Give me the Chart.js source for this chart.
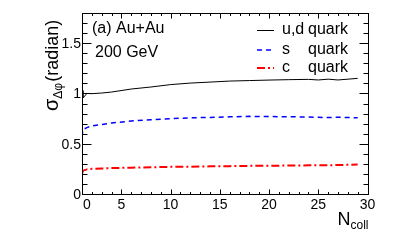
<!DOCTYPE html>
<html>
<head>
<meta charset="utf-8">
<script src="https://cdn.jsdelivr.net/npm/chart.js@4"></script>
<style>
  html, body { margin: 0; padding: 0; background: #fff; }
  #wrap { width: 409px; height: 245px; }
</style>
</head>
<body>
<div id="wrap"><canvas id="sigmaChart" width="409" height="245"></canvas></div>
<script>
// N_coll sampling points and sigma_dphi values
const nColl = [1, 1.1, 1.5, 2, 3, 4, 6, 8, 10, 12, 14, 16, 18, 20, 22, 24, 25, 26, 27, 29];
const udQuark = [1.03, 0.955, 1.0, 0.998, 1.004, 1.014, 1.044, 1.064, 1.088, 1.103, 1.113, 1.123, 1.128, 1.133, 1.137, 1.14, 1.134, 1.142, 1.134, 1.15];
const sQuark = [0.57, 0.64, 0.66, 0.677, 0.691, 0.706, 0.726, 0.739, 0.75, 0.757, 0.762, 0.767, 0.772, 0.77, 0.768, 0.766, 0.763, 0.76, 0.764, 0.758];
const cQuark = [0.2, 0.232, 0.245, 0.25, 0.254, 0.258, 0.262, 0.266, 0.27, 0.272, 0.275, 0.277, 0.28, 0.281, 0.283, 0.285, 0.285, 0.286, 0.288, 0.293];

const seriesNames = ['u,d', 's', 'c'];
const xTicks = [0, 5, 10, 15, 20, 25, 30];
const yTicks = [0, 0.5, 1, 1.5];

const FONT = '"Liberation Sans", Arial, Helvetica, sans-serif';
const toPts = vals => nColl.map((x, i) => ({ x: x, y: vals[i] }));

// ROOT-like frame, inward ticks, labels, titles and legend
const rootFrame = {
    id: 'rootFrame',
    afterDraw(chart) {
        const { ctx, chartArea: a, scales: { x, y } } = chart;
        const L = Math.round(a.left) + 0.5, R = Math.round(a.right) + 0.5;
        const T = Math.round(a.top) + 0.5, B = Math.round(a.bottom) + 0.5;
        ctx.save();
        ctx.strokeStyle = '#000';
        ctx.lineWidth = 1;
        ctx.strokeRect(L, T, R - L, B - T);

        ctx.beginPath();
        // x ticks (bottom + top)
        for (let v = Math.ceil(x.min); v <= x.max; v++) {
            const px = Math.round(x.getPixelForValue(v)) + 0.5;
            const len = v % 5 === 0 ? 5 : 2.5;
            ctx.moveTo(px, B); ctx.lineTo(px, B - len);
            ctx.moveTo(px, T); ctx.lineTo(px, T + len);
        }
        // y ticks (left + right)
        for (let k = 0; k <= 18; k++) {
            const v = k / 10;
            const py = Math.round(y.getPixelForValue(v)) + 0.5;
            const len = k % 5 === 0 ? 9 : 5;
            ctx.moveTo(L, py); ctx.lineTo(L + len, py);
            ctx.moveTo(R, py); ctx.lineTo(R - len, py);
        }
        ctx.stroke();

        ctx.fillStyle = '#000';
        ctx.font = '14px ' + FONT;
        ctx.textBaseline = 'top';
        ctx.textAlign = 'center';
        xTicks.forEach(v => {
            let px = x.getPixelForValue(v);
            if (px < a.left + 5) px = a.left + 5;
            ctx.fillText(String(v), px, a.bottom + 4);
        });
        ctx.textAlign = 'right';
        ctx.textBaseline = 'middle';
        yTicks.forEach(v => {
            ctx.fillText(String(v), a.left - 1, y.getPixelForValue(v) + 1);
        });

        // x title N_coll
        ctx.textAlign = 'left';
        ctx.textBaseline = 'alphabetic';
        ctx.font = '12px ' + FONT;
        const wSub = ctx.measureText('coll').width;
        ctx.font = '18px ' + FONT;
        const wN = ctx.measureText('N').width;
        const xEnd = a.right + 1;
        ctx.fillText('N', xEnd - wSub - wN, 225);
        ctx.font = '12px ' + FONT;
        ctx.fillText('coll', xEnd - wSub, 229);

        // y title sigma_dphi (radian)
        ctx.save();
        ctx.translate(58, 111);
        ctx.rotate(-Math.PI / 2);
        ctx.font = '20px ' + FONT;
        ctx.fillText('σ', 0, 0);
        let off = ctx.measureText('σ').width;
        ctx.font = '12px ' + FONT;
        ctx.fillText('Δφ', off, 4);
        off += ctx.measureText('Δφ').width + 1;
        ctx.font = '18px ' + FONT;
        ctx.fillText('(radian)', off, 0);
        ctx.restore();

        // annotations
        ctx.font = '16px ' + FONT;
        ctx.textBaseline = 'middle';
        ctx.fillText('(a) Au+Au', 92, 29);
        ctx.fillText('200 GeV', 95, 53);

        // legend
        const rows = [30, 49.5, 67.5];
        chart.data.datasets.forEach((ds, i) => {
            const yy = rows[i];
            ctx.save();
            ctx.strokeStyle = ds.borderColor;
            ctx.lineWidth = ds.borderWidth;
            ctx.setLineDash(ds.borderDash || []);
            ctx.beginPath();
            ctx.moveTo(257, yy + 0.5);
            ctx.lineTo(274, yy + 0.5);
            ctx.stroke();
            ctx.restore();
            ctx.fillText(seriesNames[i], 282, yy);
            ctx.fillText('quark', 308, yy);
        });
        ctx.restore();
    }
};

new Chart(document.getElementById('sigmaChart'), {
    type: 'line',
    data: {
        datasets: [
            { label: 'u,d quark', data: toPts(udQuark), borderColor: '#000000', borderWidth: 1, pointRadius: 0, tension: 0 },
            { label: 's quark', data: toPts(sQuark), borderColor: '#0000ff', borderWidth: 1.5, borderDash: [5, 4], pointRadius: 0, tension: 0 },
            { label: 'c quark', data: toPts(cQuark), borderColor: '#ff0000', borderWidth: 2, borderDash: [8, 3, 2, 3], pointRadius: 0, tension: 0 }
        ]
    },
    options: {
        responsive: false,
        animation: false,
        layout: { padding: { left: 82, right: 41.5, top: 13, bottom: 51 } },
        plugins: { legend: { display: false }, tooltip: { enabled: false } },
        scales: {
            x: { type: 'linear', min: 1, max: 30, display: false },
            y: { min: 0, max: 1.8, display: false }
        }
    },
    plugins: [rootFrame]
});
</script>
</body>
</html>
